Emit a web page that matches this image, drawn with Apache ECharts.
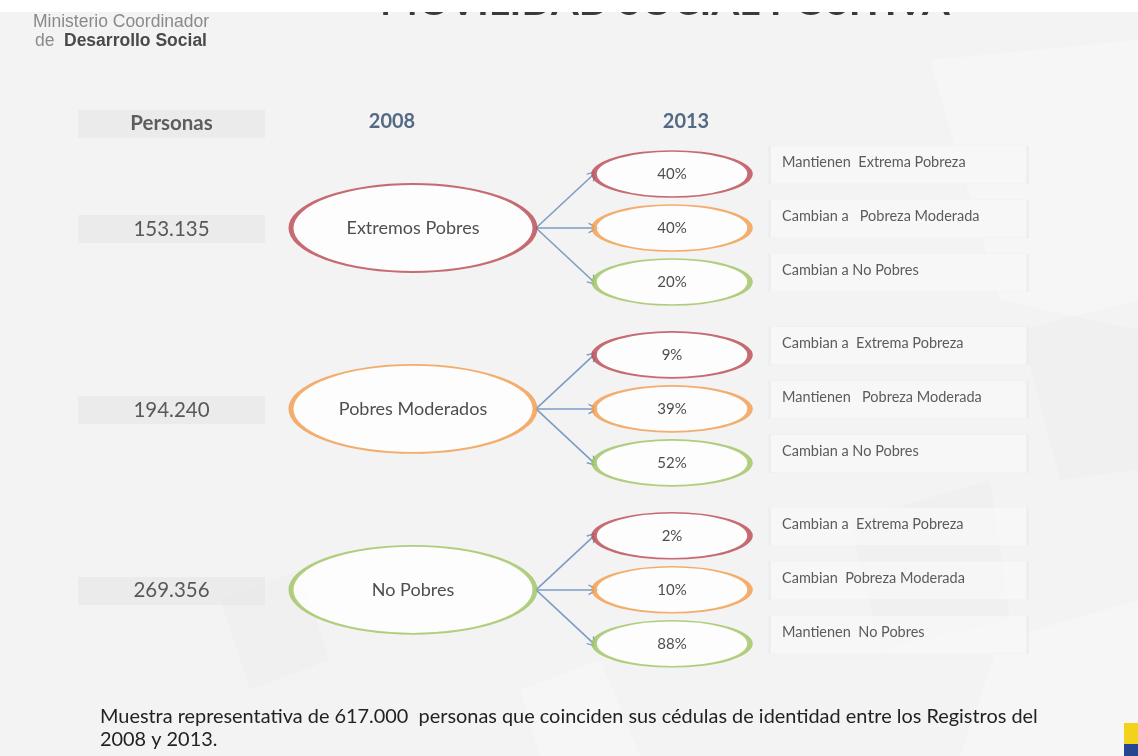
<!DOCTYPE html>
<html><head><meta charset="utf-8">
<script src="https://cdn.jsdelivr.net/npm/echarts@6/dist/echarts.min.js"></script>
<style>html,body{margin:0;padding:0;background:#f3f3f3}#c{width:1138px;height:756px}</style>
</head><body><div id="c"></div><script>
// ---------- DATA ----------
const headers = ['Personas', '2008', '2013'];
const groups = ['Extremos Pobres', 'Pobres Moderados', 'No Pobres'];
const personas = ['153.135', '194.240', '269.356'];
const pctExtremos = [40, 40, 20];
const pctModerados = [9, 39, 52];
const pctNoPobres = [2, 10, 88];
const notesExtremos = ['Mantienen  Extrema Pobreza', 'Cambian a   Pobreza Moderada', 'Cambian a No Pobres'];
const notesModerados = ['Cambian a  Extrema Pobreza', 'Mantienen   Pobreza Moderada', 'Cambian a No Pobres'];
const notesNoPobres = ['Cambian a  Extrema Pobreza', 'Cambian  Pobreza Moderada', 'Mantienen  No Pobres'];
const footnote = ['Muestra representativa de 617.000  personas que coinciden sus cédulas de identidad entre los Registros del', '2008 y 2013.'];
const titleText = 'MOVILIDAD SOCIAL POSITIVA';
const orgLine1 = 'Ministerio Coordinador';
const orgLine2a = 'de';
const orgLine2b = 'Desarrollo Social';

// ---------- LAYOUT / STYLE ----------
const pcts = [pctExtremos, pctModerados, pctNoPobres];
const notes = [notesExtremos, notesModerados, notesNoPobres];
const COL = { persons: 1.715, from: 4.13, to: 6.72, note: 7.82, noteBox: 8.985, h2008: 3.92, h2013: 6.86, arrowStart: 5.36, arrowEnd: 5.94 };
const GROUP_GAP = 3.35, SUB_GAP = 1, NOTE_OFF = -0.22, HEAD_Y = -1.98;
const classColors = ['#b9474f', '#f19a4a', '#9dc35f'];
const FONT = 'Lato';
const gy = g => g * GROUP_GAP;
const sy = (g, s) => gy(g) + (s - 1) * SUB_GAP;

const personBoxData = [{ value: [COL.persons, HEAD_Y + 0.05], name: headers[0], label: { fontWeight: 'bold', color: '#3a3a3a' } }]
  .concat(personas.map((p, g) => ({ value: [COL.persons, gy(g) + 0.02], name: p })));

const noteBoxData = [], noteTextData = [], smallData = [], arrowData = [];
groups.forEach((gname, g) => {
  for (let s = 0; s < 3; s++) {
    noteBoxData.push({ value: [COL.noteBox, sy(g, s) + NOTE_OFF + 0.05] });
    noteTextData.push({ value: [COL.note, sy(g, s) + NOTE_OFF], name: notes[g][s] });
    smallData.push({ value: [COL.to, sy(g, s)], name: pcts[g][s] + '%', itemStyle: { borderColor: classColors[s] } });
    arrowData.push({ coords: [[COL.arrowStart, gy(g)], [COL.arrowEnd, sy(g, s)]] });
  }
});
const bigData = groups.map((n, g) => ({ value: [COL.from, gy(g)], name: n, itemStyle: { borderColor: classColors[g] } }));
const headData = [
  { value: [COL.h2008, HEAD_Y], name: headers[1] },
  { value: [COL.h2013, HEAD_Y], name: headers[2] }
];

const chart = echarts.init(document.getElementById('c'));
chart.setOption({
  backgroundColor: '#f3f3f3',
  animation: false,
  grid: { left: 0, right: 0, top: 12, bottom: 15 },
  xAxis: { type: 'value', min: 0, max: 11.38, show: false },
  yAxis: { type: 'value', min: -4, max: 9.5, inverse: true, show: false },
  graphic: [
    { type: 'polygon', shape: { points: [[930, 60], [1138, 40], [1138, 330], [1000, 300]] }, style: { fill: 'rgba(255,255,255,0.3)' }, z: -10 },
    { type: 'polygon', shape: { points: [[1020, 330], [1138, 300], [1138, 470], [1060, 480]] }, style: { fill: 'rgba(0,0,0,0.012)' }, z: -10 },
    { type: 'polygon', shape: { points: [[850, 520], [990, 480], [1010, 620], [880, 650]] }, style: { fill: 'rgba(0,0,0,0.012)' }, z: -10 },
    { type: 'polygon', shape: { points: [[1000, 640], [1138, 600], [1138, 756], [960, 756]] }, style: { fill: 'rgba(255,255,255,0.3)' }, z: -10 },
    { type: 'polygon', shape: { points: [[520, 690], [600, 660], [640, 756], [540, 756]] }, style: { fill: 'rgba(255,255,255,0.3)' }, z: -10 },
    { type: 'polygon', shape: { points: [[220, 600], [300, 570], [330, 660], [250, 690]] }, style: { fill: 'rgba(0,0,0,0.01)' }, z: -10 },
    { type: 'text', left: 380, top: -18, style: { text: titleText, font: 'bold 40px ' + FONT, fill: '#3a3a3a' }, z: 5 },
    { type: 'rect', shape: { x: 0, y: 0, width: 1138, height: 12 }, style: { fill: '#ffffff' }, z: 6 },
    { type: 'text', left: 33, top: 13, style: { text: orgLine1, font: '17.5px "Liberation Sans"', fill: '#8a8a8a' }, z: 5 },
    { type: 'text', left: 35, top: 32, style: { text: orgLine2a, font: '17.5px "Liberation Sans"', fill: '#8a8a8a' }, z: 5 },
    { type: 'text', left: 64, top: 32, style: { text: orgLine2b, font: 'bold 17.5px "Liberation Sans"', fill: '#4a4a4a' }, z: 5 },
    { type: 'text', left: 100, top: 705, style: { text: footnote.join('\n'), font: '19.9px ' + FONT, fill: '#222', lineHeight: 23 }, z: 5 },
    { type: 'rect', shape: { x: 1124, y: 723, width: 14, height: 21 }, style: { fill: '#f2d21a' }, z: 5 },
    { type: 'rect', shape: { x: 1124, y: 744, width: 14, height: 12 }, style: { fill: '#26468f' }, z: 5 }
  ],
  series: [
    {
      type: 'scatter', symbol: 'rect', symbolSize: [187, 28], z: 1,
      itemStyle: { color: '#e9e9e9' },
      data: personBoxData,
      label: { show: true, position: 'inside', color: '#333', formatter: p => p.name, fontFamily: FONT, fontSize: 20.5 },
      emphasis: { disabled: true }
    },
    {
      type: 'scatter', symbol: 'rect', symbolSize: [258, 38], z: 1,
      itemStyle: { color: '#f7f7f7', borderColor: '#ebebeb', borderWidth: 1 },
      data: noteBoxData, emphasis: { disabled: true }
    },
    {
      type: 'lines', coordinateSystem: 'cartesian2d', z: 2,
      symbol: ['none', 'path://M0,10 L5,0 L10,10 L8.6,10 L5,2.8 L1.4,10 Z'], symbolSize: 11,
      lineStyle: { color: '#7d9cc4', width: 1.6, opacity: 1 },
      data: arrowData
    },
    {
      type: 'scatter', symbol: 'circle', symbolSize: [244, 88], z: 3,
      itemStyle: { color: '#ffffff', borderWidth: 3 },
      data: bigData,
      label: { show: true, position: 'inside', formatter: p => p.name, color: '#222', fontFamily: FONT, fontSize: 18 },
      emphasis: { disabled: true }
    },
    {
      type: 'scatter', symbol: 'circle', symbolSize: [156, 46], z: 3,
      itemStyle: { color: '#ffffff', borderWidth: 3 },
      data: smallData,
      label: { show: true, position: 'inside', formatter: p => p.name, color: '#222', fontFamily: FONT, fontSize: 15 },
      emphasis: { disabled: true }
    },
    {
      type: 'scatter', symbolSize: 0, z: 4,
      data: noteTextData,
      label: { show: true, position: 'right', distance: 0, formatter: p => p.name, color: '#333', fontFamily: FONT, fontSize: 14.5 },
      emphasis: { disabled: true }
    },
    {
      type: 'scatter', symbolSize: 0, z: 4,
      data: headData,
      label: { show: true, position: 'inside', formatter: p => p.name, color: '#2c4668', fontWeight: 'bold', fontFamily: FONT, fontSize: 20 },
      emphasis: { disabled: true }
    }
  ]
});
</script></body></html>
